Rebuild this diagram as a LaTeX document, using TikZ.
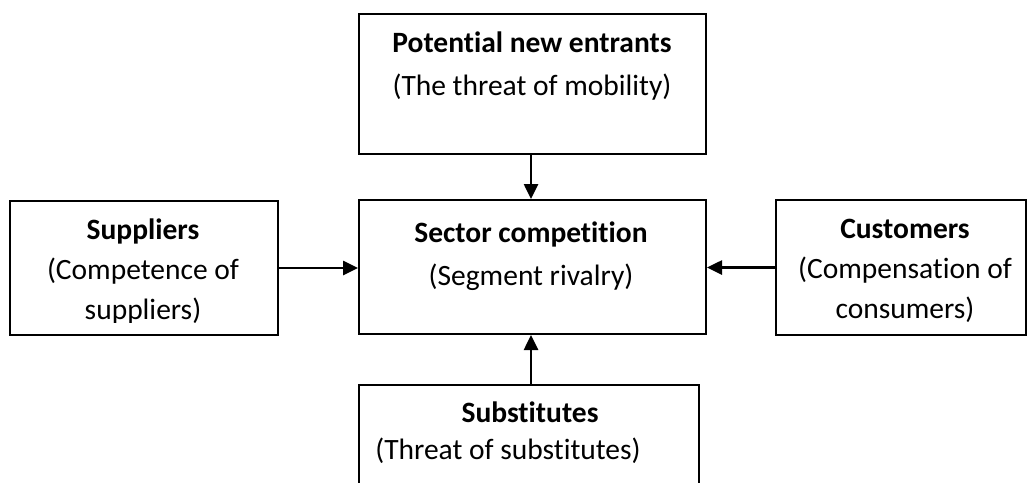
\documentclass[tikz,border=0pt]{standalone}
\usepackage{fontspec}
\setmainfont{Carlito}[RawFeature={-liga;-calt;-dlig;-clig}]
\usetikzlibrary{arrows.meta}
\tikzset{
  box/.style={draw, line width=2pt, inner sep=0pt, anchor=north west},
  txt/.style={anchor=base, inner sep=0pt, font=\fontsize{29.5}{34}\selectfont},
  btxt/.style={txt, font=\fontsize{29.5}{34}\selectfont\bfseries},
  arr/.style={line width=2.6pt, -{Triangle[length=15pt,width=14pt]}}
}
\begin{document}
\begin{tikzpicture}[x=1pt,y=-1pt]
\useasboundingbox (0,0) rectangle (1027,482);
\clip (0,0) rectangle (1027,482);
% boxes
\node[box, minimum width=347pt, minimum height=140pt] (pne) at (358,13) {};
\node[box, minimum width=347pt, minimum height=134pt] (sec) at (358,199) {};
\node[box, minimum width=268pt, minimum height=134pt] (sup) at (9,200) {};
\node[box, minimum width=250pt, minimum height=135pt] (cus) at (775,199) {};
\node[box, minimum width=340pt, minimum height=140pt] (sub) at (358,384) {};
% texts
\node[btxt] (pne1) at (532,52) {Potential new entrants};
\node[txt]  (pne2) at (532,95) {(The threat of mobility)};
\node[btxt] (sec1) at (531,242) {Sector competition};
\node[txt]  (sec2) at (531,285) {(Segment rivalry)};
\node[btxt] (sup1) at (143,239) {Suppliers};
\node[txt]  (sup2) at (143,279) {(Competence of};
\begin{scope}
\clip (10,200) rectangle (276,322);
\node[txt]  (sup3) at (143,319) {suppliers)};
\end{scope}
\node[btxt] (cus1) at (905,238) {Customers};
\node[txt]  (cus2) at (905,278) {(Compensation of};
\node[txt]  (cus3) at (905,318) {consumers)};
\node[btxt] (sub1) at (530,422) {Substitutes};
\node[txt]  (sub2) at (508,459) {(Threat of substitutes)};
% arrows
\draw[arr] (pne.south -| sec.north) ++(-1.5,0) coordinate (a1) -- (sec.north -| a1);
\draw[arr] (sup.east) -- (sup.east -| sec.west);
\draw[arr] (cus.west) -- (cus.west -| sec.east);
\draw[arr] (sub.north -| pne.south) ++(-1.5,0) coordinate (a2) -- (sec.south -| a2);
\end{tikzpicture}
\end{document}
